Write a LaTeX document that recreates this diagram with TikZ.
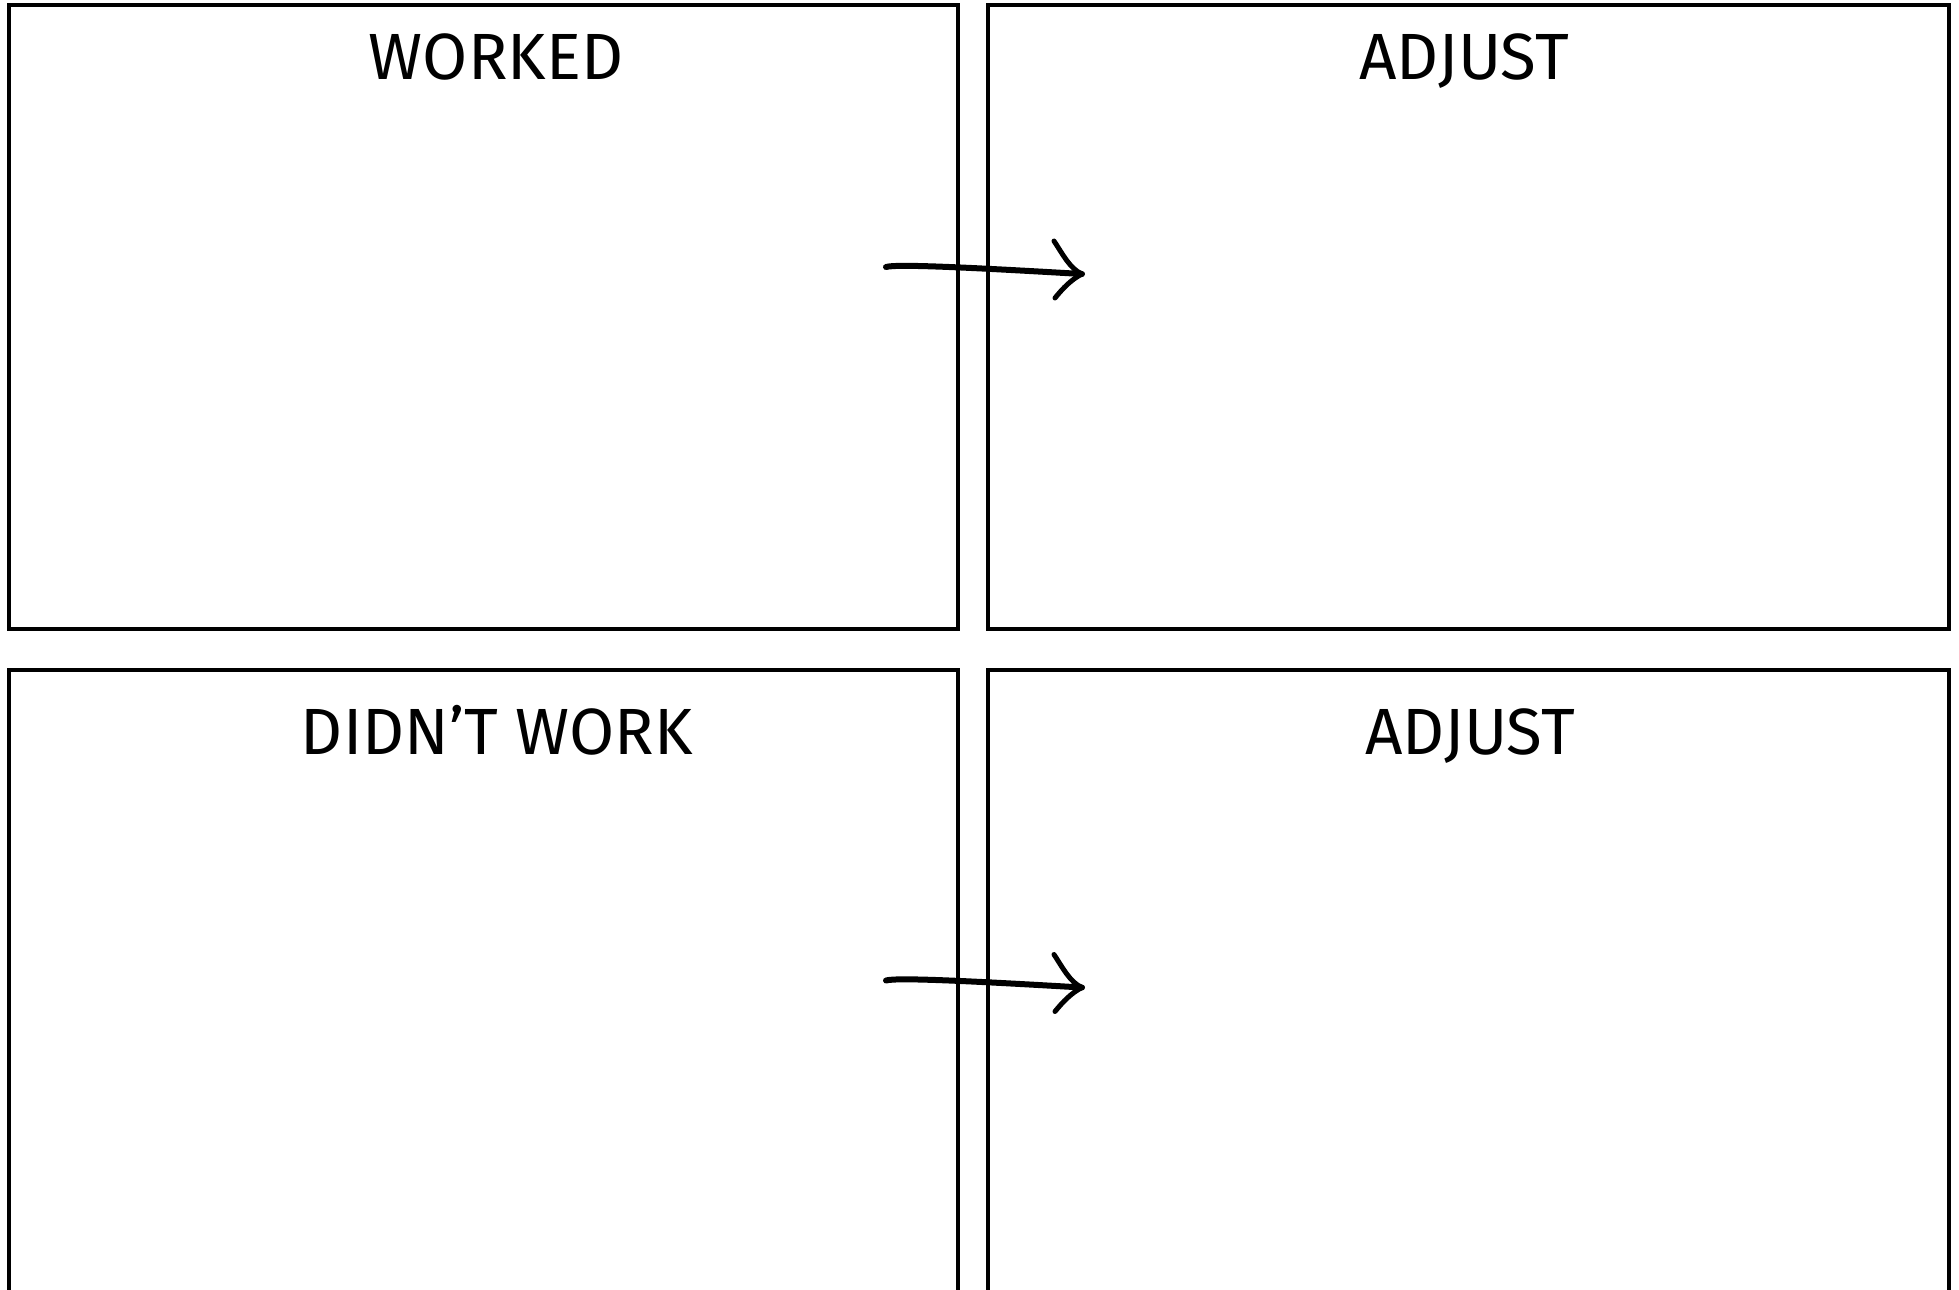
\documentclass[tikz,border=0pt]{standalone}
\usepackage{fontspec}
\setmainfont{Fira Sans}
\usetikzlibrary{positioning,calc}

\tikzset{
	panel/.style={draw=black, line width=0.04cm, minimum width=9.49cm, inner sep=0pt},
	paneltitle/.style={anchor=base, inner sep=0pt, font=\fontsize{18.6}{22}\selectfont},
	sketcharrow/.style={black, line width=0.06cm, line cap=round, line join=round},
}

\begin{document}
\begin{tikzpicture}
	\useasboundingbox (0,0) rectangle (19.59,-12.90);
	\clip (0,0) rectangle (19.59,-12.90);
	% panels
	\node[panel, minimum height=6.24cm] (worked) at (4.835,-3.17) {};
	\node[panel, minimum width=9.61cm, minimum height=6.24cm] (adjtop) at (14.685,-3.17) {};
	\node[panel, minimum height=7.30cm] (didnt) at (4.835,-10.35) {};
	\node[panel, minimum width=9.61cm, minimum height=7.30cm] (adjbot) at (14.685,-10.35) {};
	% titles
	\node[paneltitle] (tworked) at (4.96,-0.79) {WORKED};
	\node[paneltitle] (tadjtop) at (14.64,-0.79) {ADJUST};
	\node[paneltitle] (tdidnt) at (4.97,-7.54) {DIDN’T WORK};
	\node[paneltitle] (tadjbot) at (14.70,-7.54) {ADJUST};
	% arrows
	\foreach \y/\n in {0/a, -7.135/b} {
		\coordinate (start\n) at (8.86,-2.67+\y);
		\coordinate (tip\n) at (10.82,-2.74+\y);
		\coordinate (up\n) at (10.54,-2.41+\y);
		\coordinate (lo\n) at (10.55,-2.98+\y);
		\draw[sketcharrow] (start\n) .. controls ($(start\n)+(0.1,0.03)$) and ($(tip\n)+(-1.2,0.07)$) .. (tip\n);
		\draw[sketcharrow, line width=0.05cm] (tip\n) .. controls ($(tip\n)+(-0.12,0.05)$) and ($(up\n)+(0.08,-0.12)$) .. (up\n);
		\draw[sketcharrow, line width=0.05cm] (tip\n) .. controls ($(tip\n)+(-0.1,-0.05)$) and ($(lo\n)+(0.08,0.1)$) .. (lo\n);
	}
\end{tikzpicture}
\end{document}
